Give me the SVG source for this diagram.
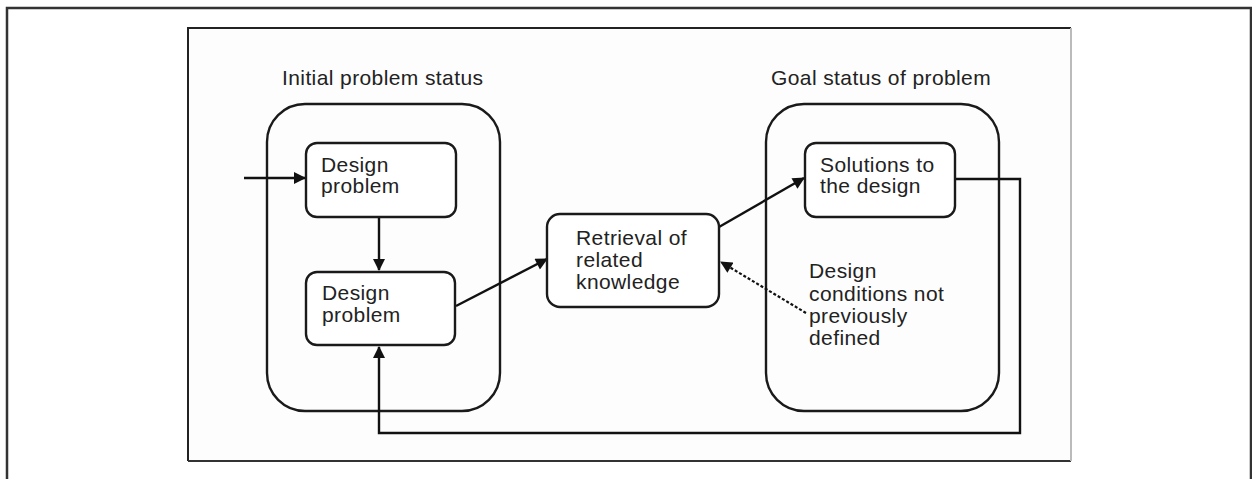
<svg xmlns="http://www.w3.org/2000/svg" width="1252" height="479" viewBox="0 0 1252 479">
<defs>
<style>
.t{font-family:"Liberation Sans",Arial,sans-serif;font-size:21px;letter-spacing:0.4px;fill:#222}
.box{fill:#fff;stroke:#1a1a1a;stroke-width:2.4}
.cont{fill:none;stroke:#1a1a1a;stroke-width:2.4}
.ln{fill:none;stroke:#111;stroke-width:2.4}
.dash{fill:none;stroke:#111;stroke-width:2.2;stroke-dasharray:3 2}
</style>
<marker id="ah" viewBox="0 0 12 12" refX="11" refY="6" markerWidth="13" markerHeight="12" markerUnits="userSpaceOnUse" orient="auto">
<path d="M0,0 L12,6 L0,12 Z" fill="#111"/>
</marker>
</defs>
<rect x="0" y="0" width="1252" height="479" fill="#fff"/>
<path d="M7,479 V8 H1251 V479" fill="none" stroke="#333" stroke-width="2.5"/>
<rect x="188" y="28" width="883" height="433" fill="#fdfdfd" stroke="none"/>
<path d="M188,461 V28 H1071" fill="none" stroke="#222" stroke-width="2"/>
<path d="M188,461 H1071" fill="none" stroke="#333" stroke-width="2"/>
<path d="M1071,28 V461" fill="none" stroke="#bbb" stroke-width="2"/>

<g id="initial-status">
<text class="t" x="282" y="85">Initial problem status</text>
<rect class="cont" x="267" y="104" width="233" height="307" rx="38" ry="38"/>
</g>
<g id="goal-status">
<text class="t" x="771" y="85">Goal status of problem</text>
<rect class="cont" x="766" y="104" width="233" height="307" rx="38" ry="38"/>
</g>

<g id="connectors">
<line class="ln" x1="244" y1="178" x2="305" y2="178" marker-end="url(#ah)"/>
<line class="ln" x1="379" y1="217" x2="379" y2="270" marker-end="url(#ah)"/>
<line class="ln" x1="456" y1="306" x2="547" y2="259" marker-end="url(#ah)"/>
<line class="ln" x1="719" y1="227" x2="804" y2="178" marker-end="url(#ah)"/>
<line class="dash" x1="806" y1="313" x2="721" y2="262" marker-end="url(#ah)"/>
<path class="ln" d="M955,179 H1020 V433 H379 V347" marker-end="url(#ah)"/>
</g>

<g id="design-problem-1">
<rect class="box" x="306" y="143" width="150" height="74" rx="11"/>
<text class="t" x="321" y="172">Design</text>
<text class="t" x="321" y="193">problem</text>
</g>
<g id="design-problem-2">
<rect class="box" x="306" y="272" width="149" height="73" rx="11"/>
<text class="t" x="322" y="300">Design</text>
<text class="t" x="322" y="322">problem</text>
</g>
<g id="retrieval">
<rect class="box" x="547" y="214" width="172" height="93" rx="13"/>
<text class="t" x="576" y="245">Retrieval of</text>
<text class="t" x="576" y="267">related</text>
<text class="t" x="576" y="289">knowledge</text>
</g>
<g id="solutions">
<rect class="box" x="805" y="143" width="150" height="74" rx="11"/>
<text class="t" x="820" y="172">Solutions to</text>
<text class="t" x="820" y="193">the design</text>
</g>
<g id="design-conditions">
<text class="t" x="809" y="278">Design</text>
<text class="t" x="809" y="301">conditions not</text>
<text class="t" x="809" y="323">previously</text>
<text class="t" x="809" y="345">defined</text>
</g>
</svg>
